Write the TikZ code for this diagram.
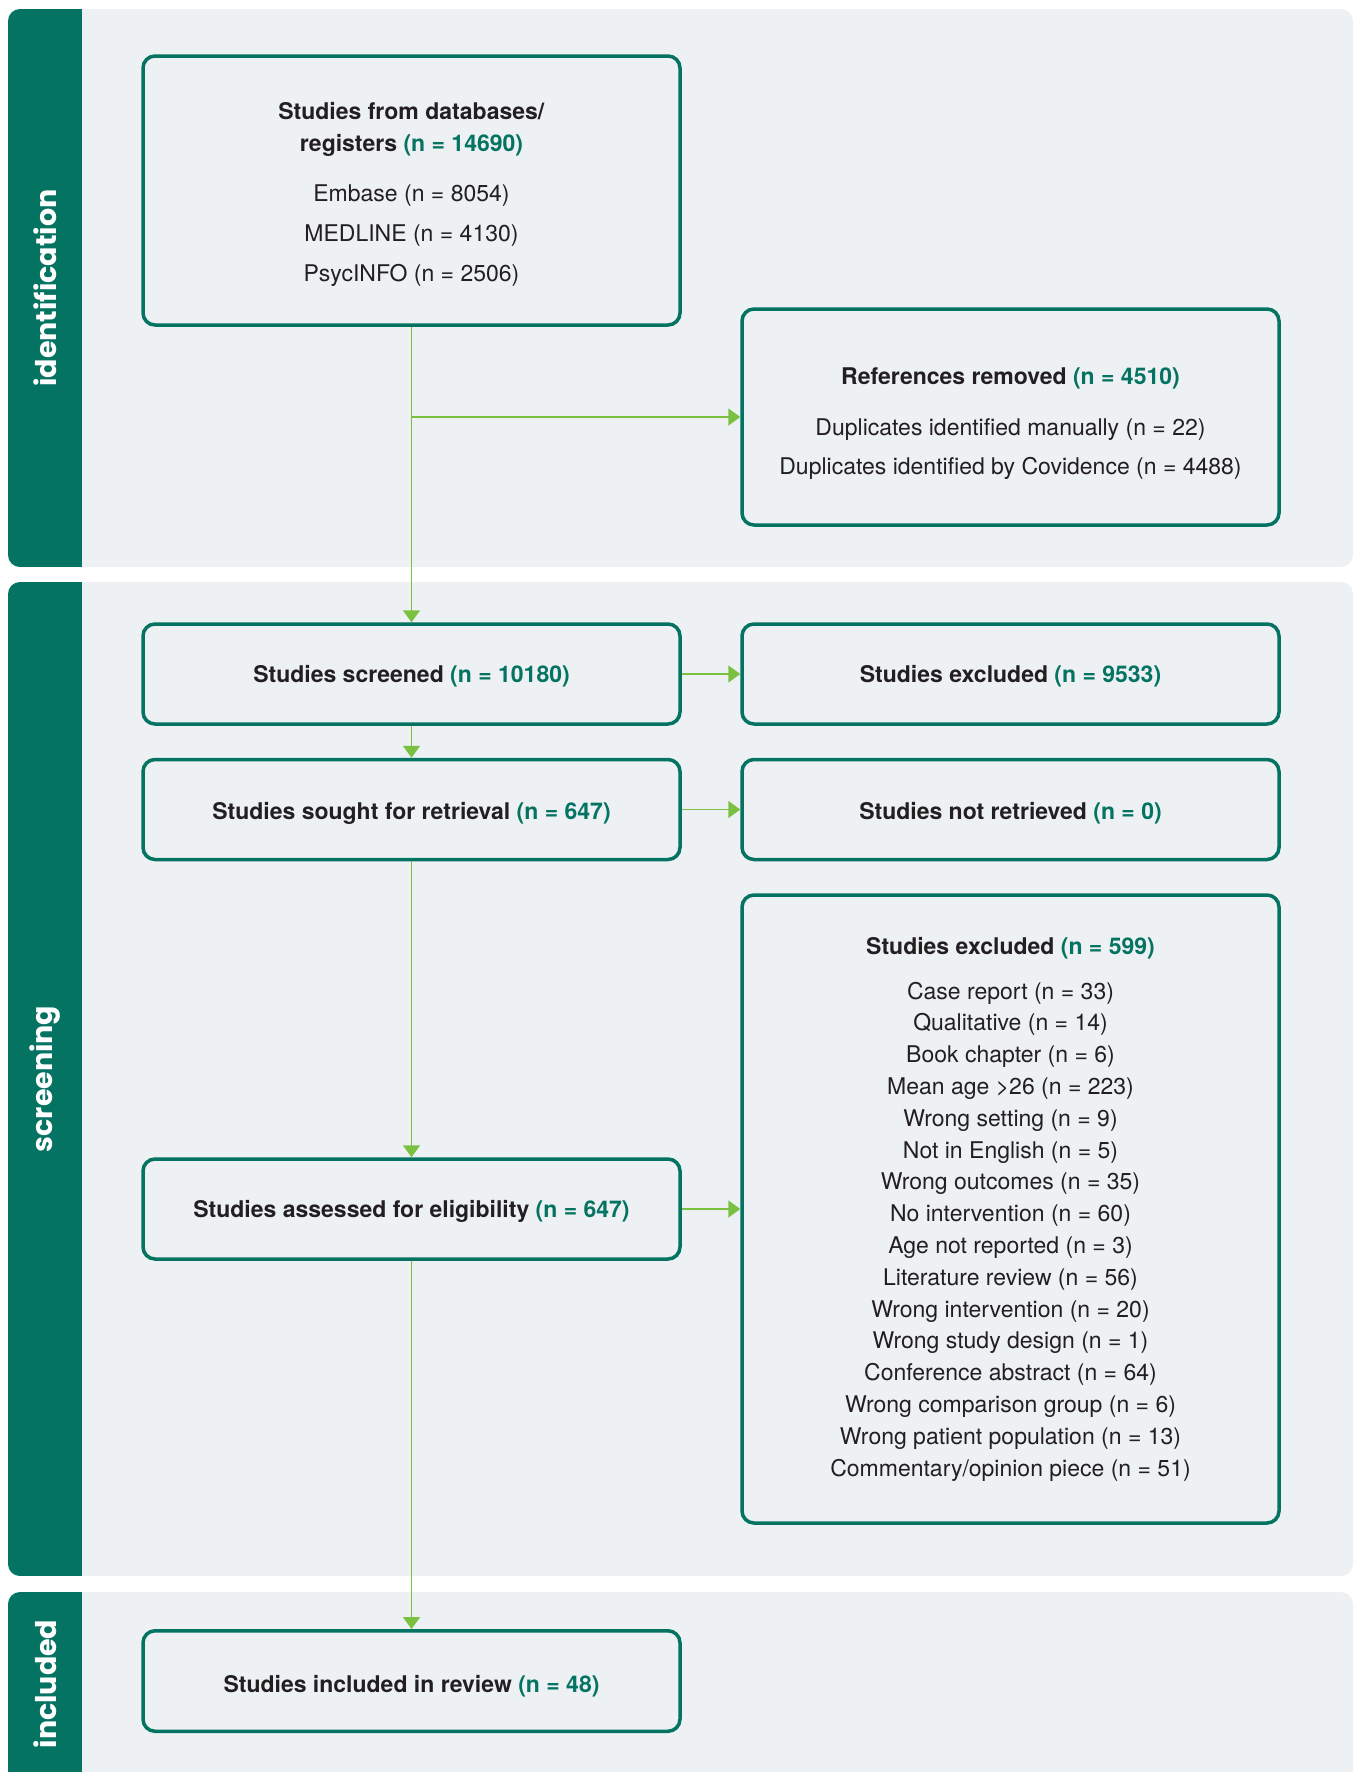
\documentclass[tikz,border=0pt]{standalone}
\usepackage{fontspec}
\setmainfont{TeX Gyre Heros}
\newfontfamily\lanefont{Poppins}
\usetikzlibrary{arrows.meta}
\definecolor{tealc}{RGB}{5,115,97}
\definecolor{panelc}{RGB}{237,241,244}
\definecolor{arrc}{RGB}{122,193,66}
\definecolor{txtc}{RGB}{35,31,32}
\newcommand\nn[1]{{\color{tealc}(n = #1)}}
\newcommand\tg[1]{\rule{0pt}{#1pt}}
\begin{document}
\begin{tikzpicture}[x=1pt,y=-1pt,
  flowbox/.style={draw=tealc, line width=3.5pt, rounded corners=12pt, fill=panelc,
    minimum width=537pt, inner sep=0pt, align=center, text=txtc,
    font=\fontsize{23}{31}\selectfont},
  lanelabel/.style={rotate=90, text=white, font=\lanefont\bfseries\fontsize{28.5}{32}\selectfont},
  arr/.style={draw=arrc, line width=1.8pt, -{Triangle[length=12pt,width=17pt]}}
]
\useasboundingbox (0,0) rectangle (1360,1772);
% panels
\begin{scope}
\fill[panelc, rounded corners=12pt] (8,9) rectangle (1353,567);
\clip[rounded corners=12pt] (8,9) rectangle (1353,567);
\fill[tealc] (8,9) rectangle (82,567);
\end{scope}
\begin{scope}
\fill[panelc, rounded corners=12pt] (8,582) rectangle (1353,1576);
\clip[rounded corners=12pt] (8,582) rectangle (1353,1576);
\fill[tealc] (8,582) rectangle (82,1576);
\end{scope}
\begin{scope}
\clip (0,0) rectangle (1360,1772);
\fill[panelc, rounded corners=12pt] (8,1592) rectangle (1353,1800);
\clip[rounded corners=12pt] (8,1592) rectangle (1353,1800);
\fill[tealc] (8,1592) rectangle (82,1800);
\end{scope}
\node[lanelabel] (lid) at (45,288) {identification};
\node[lanelabel] (lsc) at (45,1079) {screening};
\node[lanelabel] (lin) at (45,1684) {included};

% boxes
\node[flowbox, minimum height=269pt] (src) at (411.5,190.5) {%
  \tg{26}\textbf{Studies from databases/}\\[1pt]
  \textbf{registers \nn{14690}}\\[19pt]
  Embase (n = 8054)\\[9pt]
  MEDLINE (n = 4130)\\[9pt]
  PsycINFO (n = 2506)};
\node[flowbox, minimum height=216pt] (refs) at (1010.5,417) {%
  \tg{31}\textbf{References removed \nn{4510}}\\[20pt]
  Duplicates identified manually (n = 22)\\[8pt]
  Duplicates identified by Covidence (n = 4488)};
\node[flowbox, minimum height=100pt] (scr) at (411.5,674) {\tg{22}\textbf{Studies screened \nn{10180}}};
\node[flowbox, minimum height=100pt] (exa) at (1010.5,674) {\tg{22}\textbf{Studies excluded \nn{9533}}};
\node[flowbox, minimum height=100pt] (sgt) at (411.5,809.5) {\tg{24}\textbf{Studies sought for retrieval \nn{647}}};
\node[flowbox, minimum height=100pt] (nrt) at (1010.5,809.5) {\tg{24}\textbf{Studies not retrieved \nn{0}}};
\node[flowbox, minimum height=100pt] (asd) at (411.5,1209) {\tg{22}\textbf{Studies assessed for eligibility \nn{647}}};
\node[flowbox, minimum height=628pt, font=\fontsize{23}{31.8}\selectfont] (exb) at (1010.5,1209) {%
  \textbf{Studies excluded \nn{599}}\\[13.2pt]
  Case report (n = 33)\\
  Qualitative (n = 14)\\
  Book chapter (n = 6)\\
  Mean age >26 (n = 223)\\
  Wrong setting (n = 9)\\
  Not in English (n = 5)\\
  Wrong outcomes (n = 35)\\
  No intervention (n = 60)\\
  Age not reported (n = 3)\\
  Literature review (n = 56)\\
  Wrong intervention (n = 20)\\
  Wrong study design (n = 1)\\
  Conference abstract (n = 64)\\
  Wrong comparison group (n = 6)\\
  Wrong patient population (n = 13)\\
  Commentary/opinion piece (n = 51)};
\node[flowbox, minimum height=100.5pt] (inc) at (411.5,1681) {\tg{28}\textbf{Studies included in review \nn{48}}};

% connectors
\coordinate (br) at (src.south |- refs.west);
\draw[arr] (src.south) -- (scr.north);
\draw[arr] (br) -- (refs.west);
\draw[arr] (scr.east) -- (exa.west);
\draw[arr] (scr.south) -- (sgt.north);
\draw[arr] (sgt.east) -- (nrt.west);
\draw[arr] (sgt.south) -- (asd.north);
\draw[arr] (asd.east) -- (exb.west);
\draw[arr] (asd.south) -- (inc.north);
\end{tikzpicture}
\end{document}
